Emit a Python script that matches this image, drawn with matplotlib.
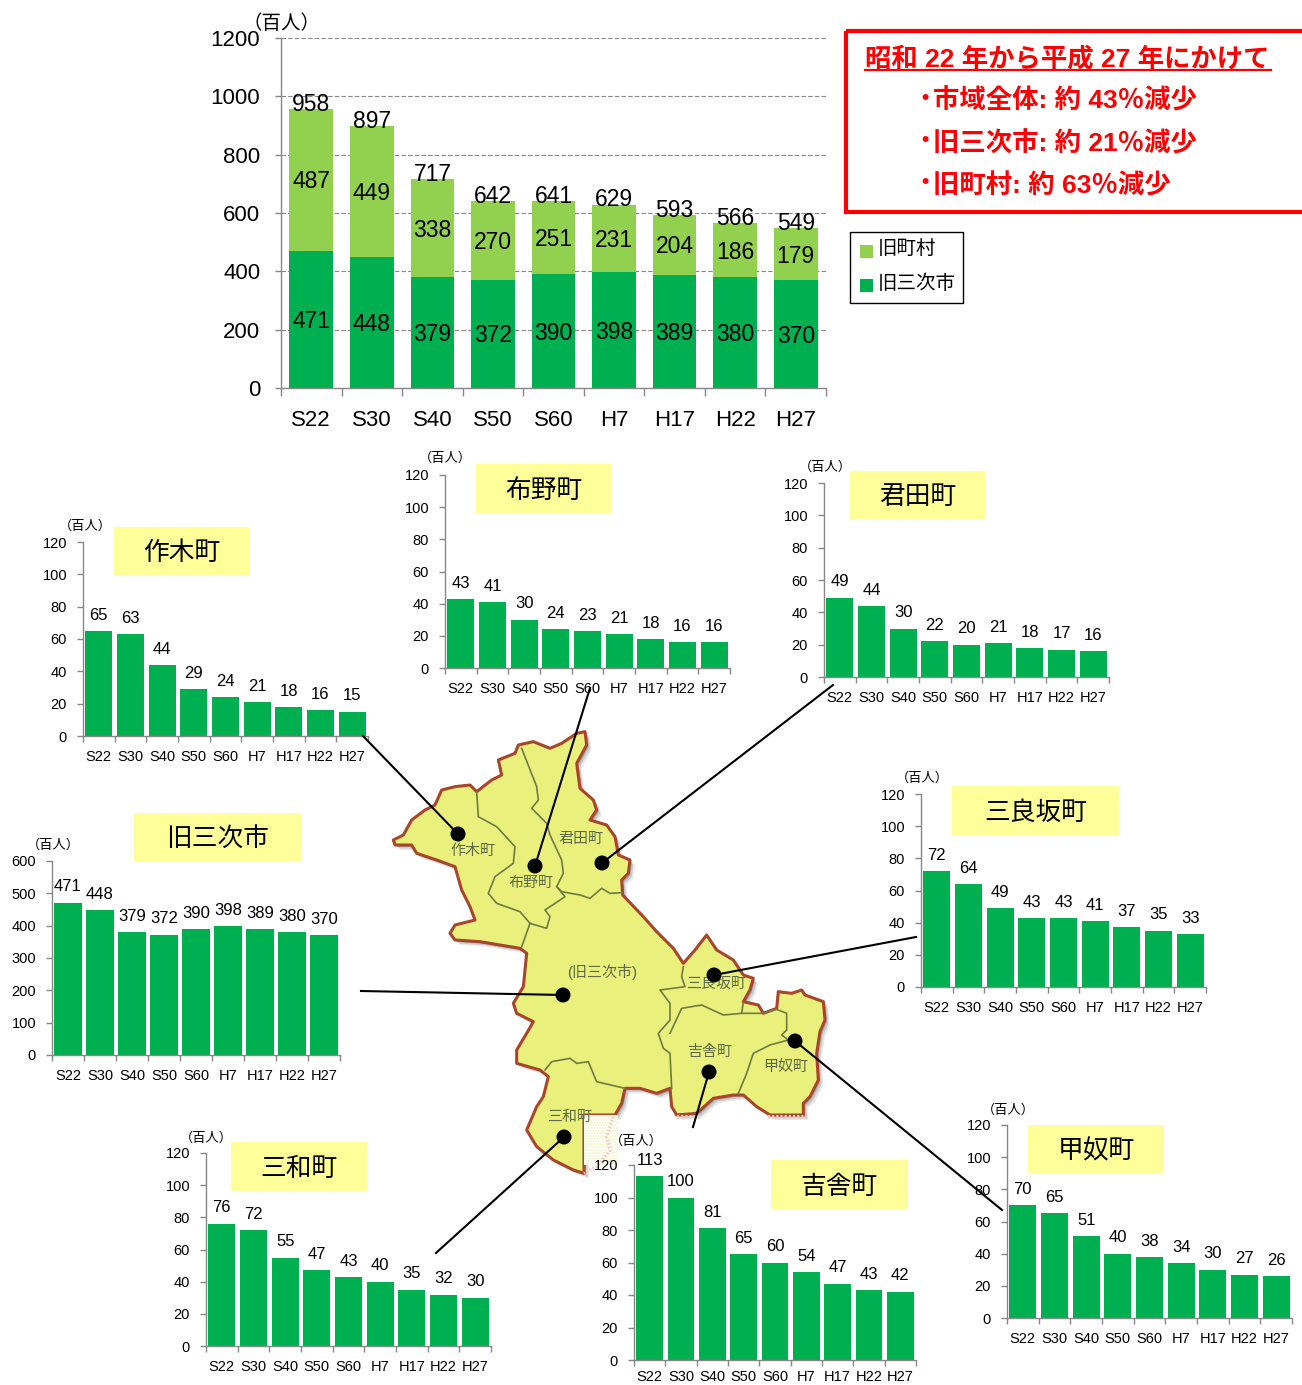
import matplotlib
matplotlib.use("Agg")
import matplotlib.pyplot as plt
from matplotlib.patches import Polygon, Rectangle, Circle

plt.rcParams['font.family'] = ['Liberation Sans', 'Noto Sans CJK JP', 'DejaVu Sans']

W, H = 1302, 1385
DARK = "#00AF50"
LIGHT = "#92D050"
YELLOW = "#FFFF99"
AXIS = "#888888"
RED = "#FF0000"

years = ["S22", "S30", "S40", "S50", "S60", "H7", "H17", "H22", "H27"]

# main chart
mihara_old = [471, 448, 379, 372, 390, 398, 389, 380, 370]
towns_old = [487, 449, 338, 270, 251, 231, 204, 186, 179]
total = [958, 897, 717, 642, 641, 629, 593, 566, 549]
main_ticks = [0, 200, 400, 600, 800, 1000, 1200]

# small charts
sakugi = [65, 63, 44, 29, 24, 21, 18, 16, 15]
funo = [43, 41, 30, 24, 23, 21, 18, 16, 16]
kimita = [49, 44, 30, 22, 20, 21, 18, 17, 16]
mirasaka = [72, 64, 49, 43, 43, 41, 37, 35, 33]
miwa = [76, 72, 55, 47, 43, 40, 35, 32, 30]
kisa = [113, 100, 81, 65, 60, 54, 47, 43, 42]
konu = [70, 65, 51, 40, 38, 34, 30, 27, 26]
small_ticks = [0, 20, 40, 60, 80, 100, 120]
city_ticks = [0, 100, 200, 300, 400, 500, 600]

# map outline, traced in the 3x crop of the picture
outline = [(40,360),(70,345),(95,300),(135,270),(165,255),(185,210),(225,200),(270,195),(290,215),
           (335,180),(365,165),(355,120),(405,100),(415,75),(460,65),(510,85),(545,70),(590,40),
           (615,35),(620,75),(590,130),(600,205),(640,240),(650,270),(630,300),(680,315),(705,350),
           (715,405),(750,420),(745,460),(725,480),(728,525),(790,590),(830,635),(880,685),(910,730),
           (945,690),(980,645),(1010,690),(1060,720),(1090,765),(1120,775),(1110,810),(1090,845),
           (1135,855),(1150,880),(1190,865),(1195,815),(1235,820),(1265,810),(1275,825),(1330,845),
           (1335,900),(1320,935),(1310,1000),(1315,1080),(1290,1130),(1270,1150),(1270,1185),
           (1170,1185),(1130,1160),(1090,1125),(1060,1125),(1000,1135),(950,1180),(890,1185),
           (875,1160),(870,1105),(830,1120),(780,1105),(735,1105),(725,1150),(705,1185),(612,1185),
           (612,1360),(580,1350),(520,1320),(470,1280),(440,1230),(470,1160),(490,1130),(505,1070),
           (480,1050),(410,1030),(410,990),(440,940),(460,905),(410,880),(400,850),(430,800),(440,700),
           (420,685),(300,665),(225,660),(210,640),(225,615),(285,600),(270,560),(245,510),(225,440),
           (170,420),(110,400),(95,375),(45,375)]
borders = [
    [(290,215),(295,290),(350,320),(405,380),(400,430),(345,470),(325,520),(350,550),(420,575),(450,610),(425,680)],
    [(450,610),(500,625),(510,590),(495,570),(555,530),(530,500)],
    [(425,85),(470,200),(475,240),(455,265),(500,310),(510,345),(545,420),(550,460),(530,500),(545,515),
     (600,525),(630,535),(665,505),(690,520),(728,518)],
    [(910,740),(905,770),(915,800),(840,810),(870,850),(870,900),(835,940),(850,985),(870,1000),(875,1105)],
    [(870,940),(905,865),(965,855),(1030,885),(1085,880),(1090,845)],
    [(1085,880),(1150,880),(1190,868),(1220,880),(1220,930),(1205,945),(1225,960)],
    [(1225,960),(1170,975),(1120,1000),(1100,1060),(1075,1120)],
    [(495,1050),(515,1025),(570,1015),(590,1030),(625,1025),(650,1085),(735,1105)],
]


def crop(points):
    return [(380 + x / 3, 720 + y / 3) for x, y in points]


def make_axes(left, top, right, bottom):
    ax = fig.add_axes([left / W, 1 - bottom / H, (right - left) / W, (bottom - top) / H])
    ax.patch.set_alpha(0)
    ax.set_xlim(-0.5, len(years) - 0.5)
    for s in ["top", "right"]:
        ax.spines[s].set_visible(False)
    for s in ["left", "bottom"]:
        ax.spines[s].set_color(AXIS)
        ax.spines[s].set_linewidth(1)
    ax.set_xticks(range(len(years)))
    ax.set_xticklabels(years)
    ax.set_xticks([i - 0.5 for i in range(len(years) + 1)], minor=True)
    ax.tick_params(axis="x", which="major", length=0)
    ax.tick_params(axis="x", which="minor", length=4, color=AXIS, width=1)
    ax.tick_params(axis="y", length=4, color=AXIS, width=1)
    return ax


def small_chart(values, ticks, left, top, right, bottom, unit_x, unit_y, label, box, xpad=10):
    ax = make_axes(left, top, right, bottom)
    ax.set_ylim(0, ticks[-1])
    ax.set_yticks(ticks)
    ax.bar(range(len(values)), values, width=0.86, color=DARK)
    ax.tick_params(axis="x", which="major", labelsize=10.5, pad=xpad)
    ax.tick_params(axis="y", labelsize=10.5, pad=7.5)
    for i, v in enumerate(values):
        ax.annotate(str(v), (i, v), xytext=(0, 6), textcoords="offset points",
                    ha="center", va="bottom", fontsize=12, color="black")
    bg.text(unit_x, unit_y + 1, "（百人）", fontsize=9.5, ha="center", va="center")
    bg.add_patch(Rectangle((box[0], box[1]), box[2] - box[0], box[3] - box[1], color=YELLOW, lw=0))
    bg.text((box[0] + box[2]) / 2, (box[1] + box[3]) / 2 + 2, label, fontsize=18.5, ha="center", va="center")


fig = plt.figure(figsize=(W / 100, H / 100), dpi=100)

# background layer in picture pixels: map, title boxes, notes
bg = fig.add_axes([0, 0, 1, 1], zorder=0)
bg.set_xlim(0, W)
bg.set_ylim(H, 0)
bg.axis("off")

for dx, dy, a in [(5, 5, 0.12), (3.5, 3.5, 0.2), (2, 2, 0.3)]:
    bg.add_patch(Polygon([(x + dx, y + dy) for x, y in crop(outline)], closed=True, color="#555555", alpha=a, lw=0))
bg.add_patch(Polygon(crop(outline), closed=True, facecolor="#E9F17C", edgecolor="#A8452B", lw=2.2, joinstyle="round"))
for b in borders:
    pts = crop(b)
    bg.plot([p[0] for p in pts], [p[1] for p in pts], color="#6F7A45", lw=1.2)
# the white cut-out left over the map
bg.add_patch(Rectangle((584, 1115), 34, 50, facecolor="white", edgecolor="#F0F4C0", hatch="......", lw=0))
patch_edge = crop([(700,1190),(680,1250),(690,1290),(650,1340),(612,1360)])
bg.plot([p[0] for p in patch_edge], [p[1] for p in patch_edge], color="#EFD0C8", lw=2.5, ls=(0, (0.5, 0.5)))
for seg in [[(890,1192),(960,1192)], [(1165,1192),(1285,1192)]]:
    pts = crop(seg)
    bg.plot([p[0] for p in pts], [p[1] for p in pts], color="#EFD0C8", lw=3, ls=(0, (0.5, 0.5)))

map_names = [("作木町", 278, 393), ("布野町", 452, 488), ("君田町", 602, 357), ("(旧三次市)", 668, 757),
             ("三良坂町", 1008, 792), ("吉舎町", 988, 996), ("甲奴町", 1218, 1042), ("三和町", 568, 1190)]
for name, zx, zy in map_names:
    x, y = crop([(zx, zy)])[0]
    bg.text(x, y, name, fontsize=10.8, color="#5F6A45", ha="center", va="center")

# red note
bg.add_patch(Rectangle((846, 31), 470, 181, fill=False, edgecolor=RED, lw=3))
bg.text(865, 59, "昭和 22 年から平成 27 年にかけて", fontsize=19, color=RED, fontweight="bold", va="center")
bg.plot([865, 1271], [70, 70], color=RED, lw=1.6)
note_lines = ["市域全体: 約 43％減少", "旧三次市: 約 21％減少", "旧町村: 約 63％減少"]
note_y = [101, 144, 186]
for line, y in zip(note_lines, note_y):
    bg.text(925, y - 3, "•", fontsize=15, color=RED, fontweight="bold", va="center", ha="center")
    bg.text(933, y, line, fontsize=19, color=RED, fontweight="bold", va="center")

# legend
bg.add_patch(Rectangle((850, 232), 113, 71, facecolor="white", edgecolor="black", lw=1))
bg.add_patch(Rectangle((860, 245), 13, 13, color=LIGHT, lw=0))
bg.add_patch(Rectangle((860, 279), 13, 13, color=DARK, lw=0))
bg.text(878, 249, "旧町村", fontsize=14, va="center")
bg.text(878, 284, "旧三次市", fontsize=14, va="center")

# main chart
ax = make_axes(281, 38, 826, 388)
ax.set_ylim(0, 1200)
ax.set_yticks(main_ticks)
ax.yaxis.grid(True, color="#888888", ls=(0, (4, 2)), lw=0.8)
ax.set_axisbelow(True)
ax.bar(range(len(years)), mihara_old, width=0.72, color=DARK)
ax.bar(range(len(years)), towns_old, width=0.72, bottom=mihara_old, color=LIGHT)
ax.tick_params(axis="both", which="major", labelsize=16)
ax.tick_params(axis="x", which="major", pad=16)
ax.tick_params(axis="y", pad=11)
ax.tick_params(axis="x", which="minor", length=6)
for i in range(len(years)):
    ax.annotate(str(mihara_old[i]), (i, mihara_old[i] / 2), xytext=(0, -1.5), textcoords="offset points",
                fontsize=16.5, ha="center", va="center")
    ax.annotate(str(towns_old[i]), (i, mihara_old[i] + towns_old[i] / 2), xytext=(0, -1.5), textcoords="offset points",
                fontsize=16.5, ha="center", va="center")
    ax.annotate(str(total[i]), (i, total[i]), xytext=(0, -5), textcoords="offset points",
                fontsize=16.5, ha="center", va="bottom")
bg.text(281, 24, "（百人）", fontsize=14, ha="center", va="center")

small_chart(sakugi, small_ticks, 83, 542, 368, 736, 85, 525, "作木町", (114, 527, 249, 575))
small_chart(funo, small_ticks, 445, 475, 730, 668, 445, 457, "布野町", (476, 464, 611, 513))
small_chart(kimita, small_ticks, 824, 483, 1109, 677, 825, 466, "君田町", (850, 471, 985, 519))
small_chart(mirasaka, small_ticks, 921, 794, 1206, 987, 922, 777, "三良坂町", (952, 786, 1119, 835))
small_chart(mihara_old, city_ticks, 52, 861, 340, 1055, 53, 844, "旧三次市", (134, 813, 301, 861))
small_chart(miwa, small_ticks, 206, 1153, 491, 1346, 206, 1137, "三和町", (231, 1142, 367, 1191))
small_chart(kisa, small_ticks, 634, 1165, 916, 1360, 636, 1140, "吉舎町", (771, 1160, 908, 1209), xpad=7.5)
small_chart(konu, small_ticks, 1007, 1125, 1292, 1318, 1008, 1109, "甲奴町", (1028, 1125, 1164, 1173))

# leader lines and dots on top of everything
top = fig.add_axes([0, 0, 1, 1], zorder=5)
top.set_xlim(0, W)
top.set_ylim(H, 0)
top.axis("off")
leaders = [((363, 736), (458, 834)), ((590, 688), (535, 866)), ((833, 685), (602, 863)),
           ((361, 991), (563, 995)), ((916, 937), (714, 975)), ((693, 1127), (709, 1072)),
           ((1002, 1210), (795, 1041)), ((436, 1253), (564, 1137))]
for start, end in leaders:
    top.plot([start[0], end[0]], [start[1], end[1]], color="black", lw=1.5)
    top.add_patch(Circle(end, 7.5, color="black", lw=0))

fig.savefig("out.png", dpi=100)
